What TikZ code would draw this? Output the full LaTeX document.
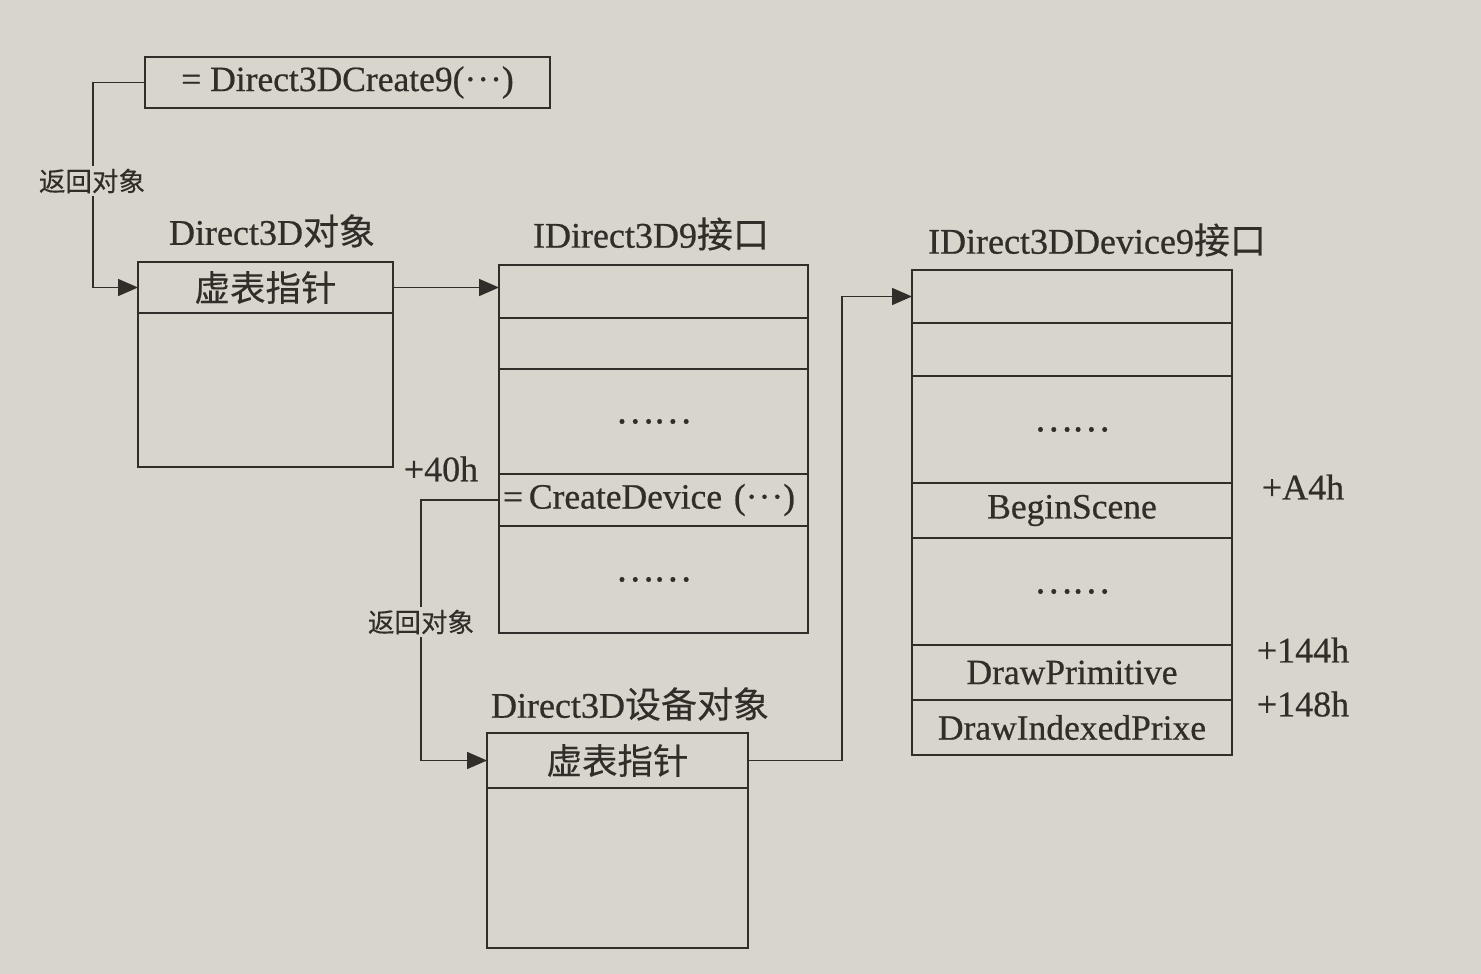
\documentclass[tikz,border=0pt]{standalone}
\usepackage{fontspec}
\setmainfont{Liberation Serif}[FakeBold=0.6]
\newfontfamily\cjk{Noto Sans CJK SC}[FakeBold=0.3]
\usetikzlibrary{arrows.meta}
\definecolor{paper}{RGB}{216,213,205}
\definecolor{ink}{RGB}{50,45,40}
\newcommand{\tdots}{\textperiodcentered\kern1pt\textperiodcentered\kern1pt\textperiodcentered}
\begin{document}
\begin{tikzpicture}[x=1pt,y=-1pt,
 cell/.style={draw=ink, line width=1.9pt, inner sep=0pt, outer sep=0pt, text=ink, font=\fontsize{35.5}{40}\selectfont},
 ttl/.style={text=ink, font=\fontsize{36}{40}\selectfont, inner sep=0pt},
 lbl/.style={text=ink, font=\cjk\fontsize{26.5}{30}\selectfont, fill=paper, inner sep=3pt},
 conn/.style={draw=ink, line width=1.7pt},
 arr/.style={conn, -{Triangle[length=20pt,width=17pt]}}]
\fill[paper] (0,0) rectangle (1481,974);
\useasboundingbox (0,0) rectangle (1481,974);

% top box
\node[cell, minimum width=405pt, minimum height=51pt] (top) at (347.5,82.5) {= Direct3DCreate9(\tdots)};

% Direct3D object
\node[ttl] (t1) at (272,231) {Direct3D{\cjk 对象}};
\node[cell, minimum width=255pt, minimum height=51pt] (b1r1) at (265.5,287.5) {\cjk 虚表指针};
\node[cell, minimum width=255pt, minimum height=154pt] (b1r2) at (265.5,390) {};

% IDirect3D9 interface
\node[ttl] (t2) at (651,234) {IDirect3D9{\cjk 接口}};
\node[cell, minimum width=309pt, minimum height=53pt] (b2r1) at (653.5,291.5) {};
\node[cell, minimum width=309pt, minimum height=51pt] (b2r2) at (653.5,343.5) {};
\node[cell, minimum width=309pt, minimum height=105pt] (b2r3) at (653.5,421.5) {\cjk ……};
\node[cell, minimum width=309pt, minimum height=52pt, text width=301pt, align=left] (b2r4) at (653.5,500) {=\,CreateDevice\ (\tdots)};
\node[cell, minimum width=309pt, minimum height=107pt] (b2r5) at (653.5,579.5) {\cjk ……};
\node[ttl] (o40) at (441,469) {+40h};

% Direct3D device object
\node[ttl] (t3) at (630,704) {Direct3D{\cjk 设备对象}};
\node[cell, minimum width=261pt, minimum height=55pt] (b3r1) at (617.5,760.5) {\cjk 虚表指针};
\node[cell, minimum width=261pt, minimum height=160pt] (b3r2) at (617.5,868) {};

% IDirect3DDevice9 interface
\node[ttl] (t4) at (1097,240) {IDirect3DDevice9{\cjk 接口}};
\node[cell, minimum width=320pt, minimum height=53pt] (b4r1) at (1072,296.5) {};
\node[cell, minimum width=320pt, minimum height=53pt] (b4r2) at (1072,349.5) {};
\node[cell, minimum width=320pt, minimum height=107pt] (b4r3) at (1072,429.5) {\cjk ……};
\node[cell, minimum width=320pt, minimum height=55pt] (b4r4) at (1072,510.5) {BeginScene};
\node[cell, minimum width=320pt, minimum height=107pt] (b4r5) at (1072,591.5) {\cjk ……};
\node[cell, minimum width=320pt, minimum height=55pt] (b4r6) at (1072,672.5) {DrawPrimitive};
\node[cell, minimum width=320pt, minimum height=55pt] (b4r7) at (1072,727.5) {DrawIndexedPrixe};
\node[ttl] (oA4) at (1303,487) {+A4h};
\node[ttl] (o144) at (1303,650) {+144h};
\node[ttl] (o148) at (1303,704) {+148h};

% connectors
\draw[arr] (top.west) -- ++(-52,0) |- (b1r1.west);
\node[lbl] (l1) at (92,181) {返回对象};
\draw[arr] (b1r1.east) -- (b1r1.east -| b2r1.west);
\draw[arr] (b2r4.west) -- ++(-78,0) |- (b3r1.west);
\node[lbl] (l2) at (421,622) {返回对象};
\draw[arr] (b3r1.east) -- ++(94,0) |- (b4r1.west);
\end{tikzpicture}
\end{document}
